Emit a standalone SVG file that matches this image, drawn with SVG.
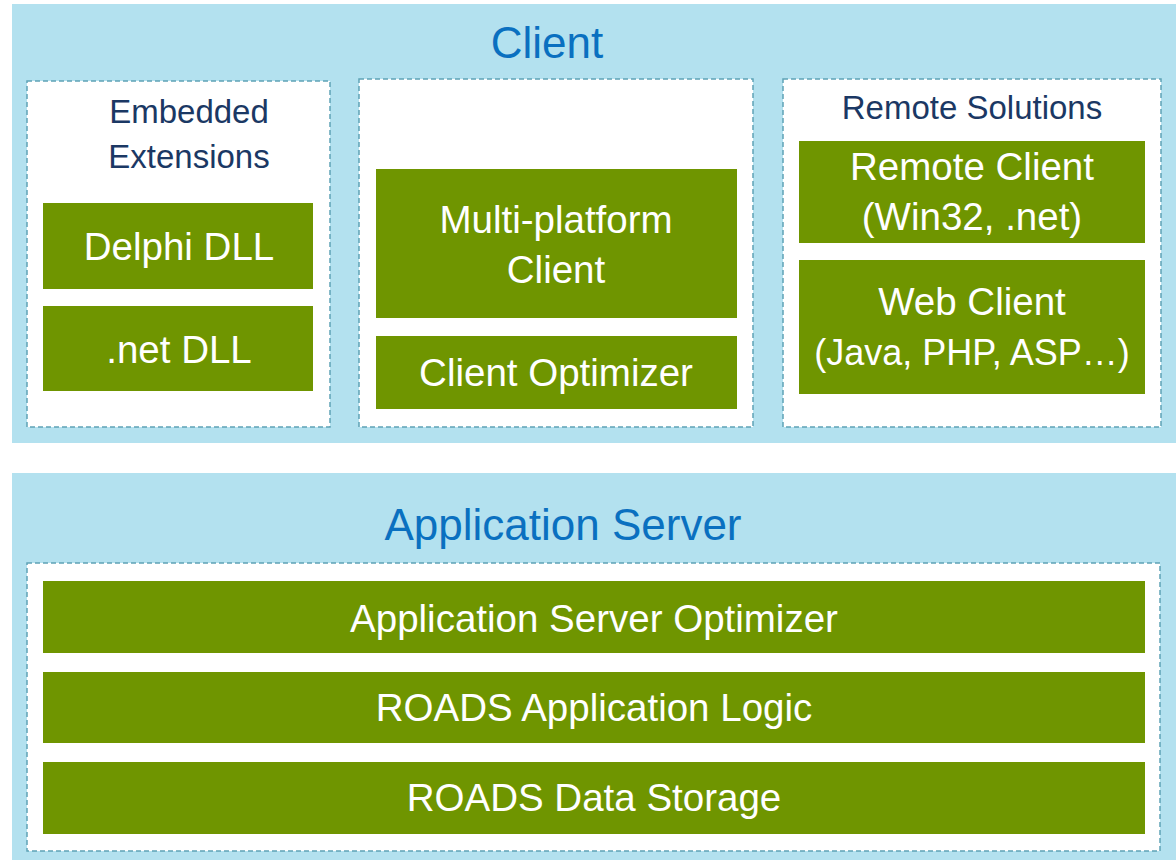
<svg xmlns="http://www.w3.org/2000/svg" width="1176" height="860" viewBox="0 0 1176 860">
<style>
.panel{fill:#b3e1ef}
.dash{fill:#ffffff;stroke:#5fa3b7;stroke-width:1.5;stroke-dasharray:5 3}
.g{fill:#6f9500}
.t{font-family:"Liberation Sans",Arial,sans-serif;text-anchor:middle}
.title{fill:#0a70c0;font-size:44px}
.sub{fill:#1b3864;font-size:33px}
.w{fill:#ffffff;font-size:38.5px}
</style>
<rect x="0" y="0" width="1176" height="860" fill="#ffffff"/>
<g id="client-panel">
<rect class="panel" x="12" y="4" width="1164" height="439"/>
<text class="t title" x="547" y="58">Client</text>
</g>
<g id="embedded">
<rect class="dash" x="27" y="81" width="303" height="346"/>
<text class="t sub" x="189" y="123">Embedded</text>
<text class="t sub" x="189" y="168">Extensions</text>
</g>
<g id="delphi-dll">
<rect class="g" x="43" y="203" width="270" height="86"/>
<text class="t w" x="179" y="260">Delphi DLL</text>
</g>
<g id="net-dll">
<rect class="g" x="43" y="306" width="270" height="85"/>
<text class="t w" x="179" y="363">.net DLL</text>
</g>
<g id="middle">
<rect class="dash" x="359" y="79" width="394" height="348"/>
</g>
<g id="multi-platform">
<rect class="g" x="376" y="169" width="361" height="149"/>
<text class="t w" x="556" y="233">Multi-platform</text>
<text class="t w" x="556" y="283">Client</text>
</g>
<g id="client-optimizer">
<rect class="g" x="376" y="336" width="361" height="73"/>
<text class="t w" x="556" y="386">Client Optimizer</text>
</g>
<g id="remote">
<rect class="dash" x="783" y="79" width="378" height="348"/>
<text class="t sub" x="972" y="119">Remote Solutions</text>
</g>
<g id="remote-client">
<rect class="g" x="799" y="141" width="346" height="102"/>
<text class="t w" x="972" y="180">Remote Client</text>
<text class="t w" x="972" y="230">(Win32, .net)</text>
</g>
<g id="web-client">
<rect class="g" x="799" y="260" width="346" height="134"/>
<text class="t w" x="972" y="315">Web Client</text>
<text class="t w" x="972" y="365" style="font-size:36px">(Java, PHP, ASP…)</text>
</g>
<g id="app-panel">
<rect class="panel" x="12" y="473" width="1164" height="387"/>
<text class="t title" x="563" y="540">Application Server</text>
<rect class="dash" x="27" y="563" width="1133" height="288"/>
</g>
<g id="as-optimizer">
<rect class="g" x="43" y="581" width="1102" height="72"/>
<text class="t w" x="594" y="632">Application Server Optimizer</text>
</g>
<g id="app-logic">
<rect class="g" x="43" y="672" width="1102" height="71"/>
<text class="t w" x="594" y="721">ROADS Application Logic</text>
</g>
<g id="data-storage">
<rect class="g" x="43" y="762" width="1102" height="72"/>
<text class="t w" x="594" y="811">ROADS Data Storage</text>
</g>
<g id="connectors"/>
</svg>
